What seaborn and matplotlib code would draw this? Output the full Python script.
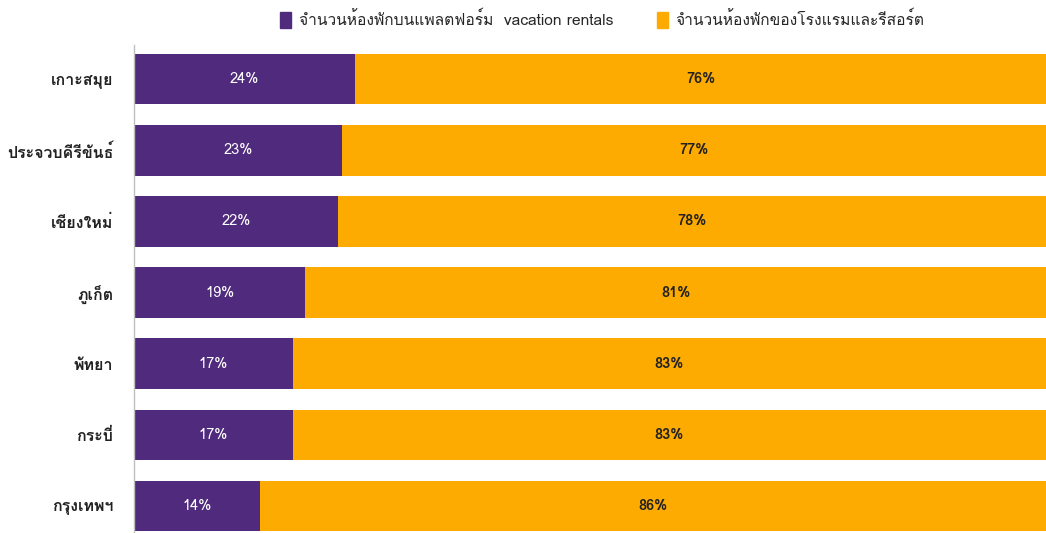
import matplotlib
matplotlib.use("Agg")
import matplotlib.pyplot as plt
from matplotlib import font_manager
from matplotlib.ft2font import FT2Font
from matplotlib.patches import Patch
import seaborn as sns
import pandas as pd

provinces = ["เกาะสมุย", "ประจวบคีรีขันธ์", "เชียงใหม่", "ภูเก็ต", "พัทยา", "กระบี่", "กรุงเทพฯ"]
vacation_rentals = [24.2, 22.8, 22.4, 18.8, 17.4, 17.4, 13.8]
hotels_resorts = [75.8, 77.2, 77.6, 81.2, 82.6, 82.6, 86.2]
series_names = ["จำนวนห้องพักบนแพลตฟอร์ม  vacation rentals", "จำนวนห้องพักของโรงแรมและรีสอร์ต"]

purple = "#4F2A7D"
orange = "#FDAB00"

sns.set_theme(style="white")

# find a font with Thai glyphs
thai_fonts = []
for fe in font_manager.fontManager.ttflist:
    try:
        cm = FT2Font(fe.fname).get_charmap()
        if ord("ก") in cm and ord("%") in cm:
            thai_fonts.append(fe.name)
    except Exception:
        pass
fams = []
for n in thai_fonts:
    if n not in fams:
        fams.append(n)
plt.rcParams["font.family"] = fams + ["DejaVu Sans"]

df = pd.DataFrame({"province": provinces, "vr": vacation_rentals, "hotel": hotels_resorts})
df["total"] = df["vr"] + df["hotel"]

fig = plt.figure(figsize=(10.46, 5.33), dpi=100)
ax = fig.add_axes([134 / 1046, 0.0, 1 - 134 / 1046, 1 - 45 / 533])

sns.barplot(data=df, y="province", x="total", color=orange, orient="h", width=0.71,
            saturation=1, ax=ax, linewidth=0)
sns.barplot(data=df, y="province", x="vr", color=purple, orient="h", width=0.71,
            saturation=1, ax=ax, linewidth=0)

for i, (v, h) in enumerate(zip(vacation_rentals, hotels_resorts)):
    ax.text(v / 2, i, f"{v:.0f}%", ha="center", va="center", color="white", fontsize=10.5)
    ax.text(v + h / 2, i, f"{h:.0f}%", ha="center", va="center", color="#222222", fontsize=10.5,
            fontweight="bold")

ax.set_xlim(0, 100)
ax.set_ylim(6.38, -0.48)
ax.set_xlabel("")
ax.set_ylabel("")
ax.set_xticks([])
ax.tick_params(axis="y", length=0, pad=15, labelsize=11.5, labelcolor="#222222")
for lab in ax.get_yticklabels():
    lab.set_fontweight("bold")
for s in ["top", "right", "bottom"]:
    ax.spines[s].set_visible(False)
ax.spines["left"].set_color("#BFBFBF")
ax.spines["left"].set_linewidth(1)

handles = [Patch(color=purple, label=series_names[0]), Patch(color=orange, label=series_names[1])]
fig.legend(handles=handles, loc="center", bbox_to_anchor=(0.576, 0.963), ncol=2, frameon=False,
           fontsize=11.2, handlelength=0.7, handleheight=1.2, handletextpad=0.5, columnspacing=2.8)

fig.savefig("out.png", dpi=100)
